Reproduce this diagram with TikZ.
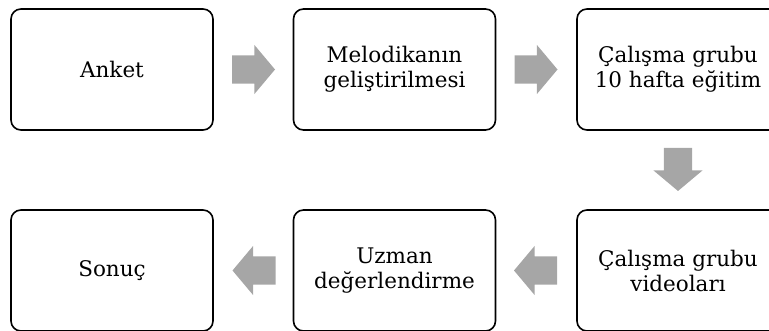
\documentclass[tikz,border=0pt]{standalone}
\usepackage{fontspec}
\setmainfont{DejaVu Serif}
\usetikzlibrary{shapes.arrows,calc}

\definecolor{okgri}{HTML}{A6A6A6}

\tikzset{
  stepbox/.style={draw, line width=1.6pt, rounded corners=10pt,
    minimum width=202pt, minimum height=121pt, align=center,
    font=\fontsize{21.5}{25}\selectfont},
  blockarrow/.style={single arrow, fill=okgri, draw=none, anchor=tail,
    inner xsep=0pt, inner ysep=14pt,
    minimum height=43pt,
    single arrow head extend=10.5pt, single arrow tip angle=100}
}

\begin{document}
\begin{tikzpicture}[x=1pt,y=-1pt]
    \useasboundingbox (0,0) rectangle (769,331);

    % top row
    \node[stepbox] (anket) at (112,69.5) {Anket};
    \node[stepbox] (melodi) at (394.5,69.5) {Melodikanın\\geliştirilmesi};
    \node[stepbox] (egitim) at (678,69.5) {Çalışma grubu\\10 hafta eğitim};

    % bottom row
    \node[stepbox] (sonuc) at (112,270.5) {Sonuç};
    \node[stepbox] (uzman) at (394.5,270.5) {Uzman\\değerlendirme};
    \node[stepbox] (video) at (678,270.5) {Çalışma grubu\\videoları};

    % arrows
    \node[blockarrow] (ok1) at ($(anket.east)+(18,0)$) {};
    \node[blockarrow] (ok2) at ($(melodi.east)+(18,0)$) {};
    \node[blockarrow, rotate=-90] (ok3) at ($(egitim.south)+(0,17)$) {};
    \node[blockarrow, rotate=180] (ok4) at ($(video.west)+(-19,0)$) {};
    \node[blockarrow, rotate=180] (ok5) at ($(uzman.west)+(-17,0)$) {};
\end{tikzpicture}
\end{document}
